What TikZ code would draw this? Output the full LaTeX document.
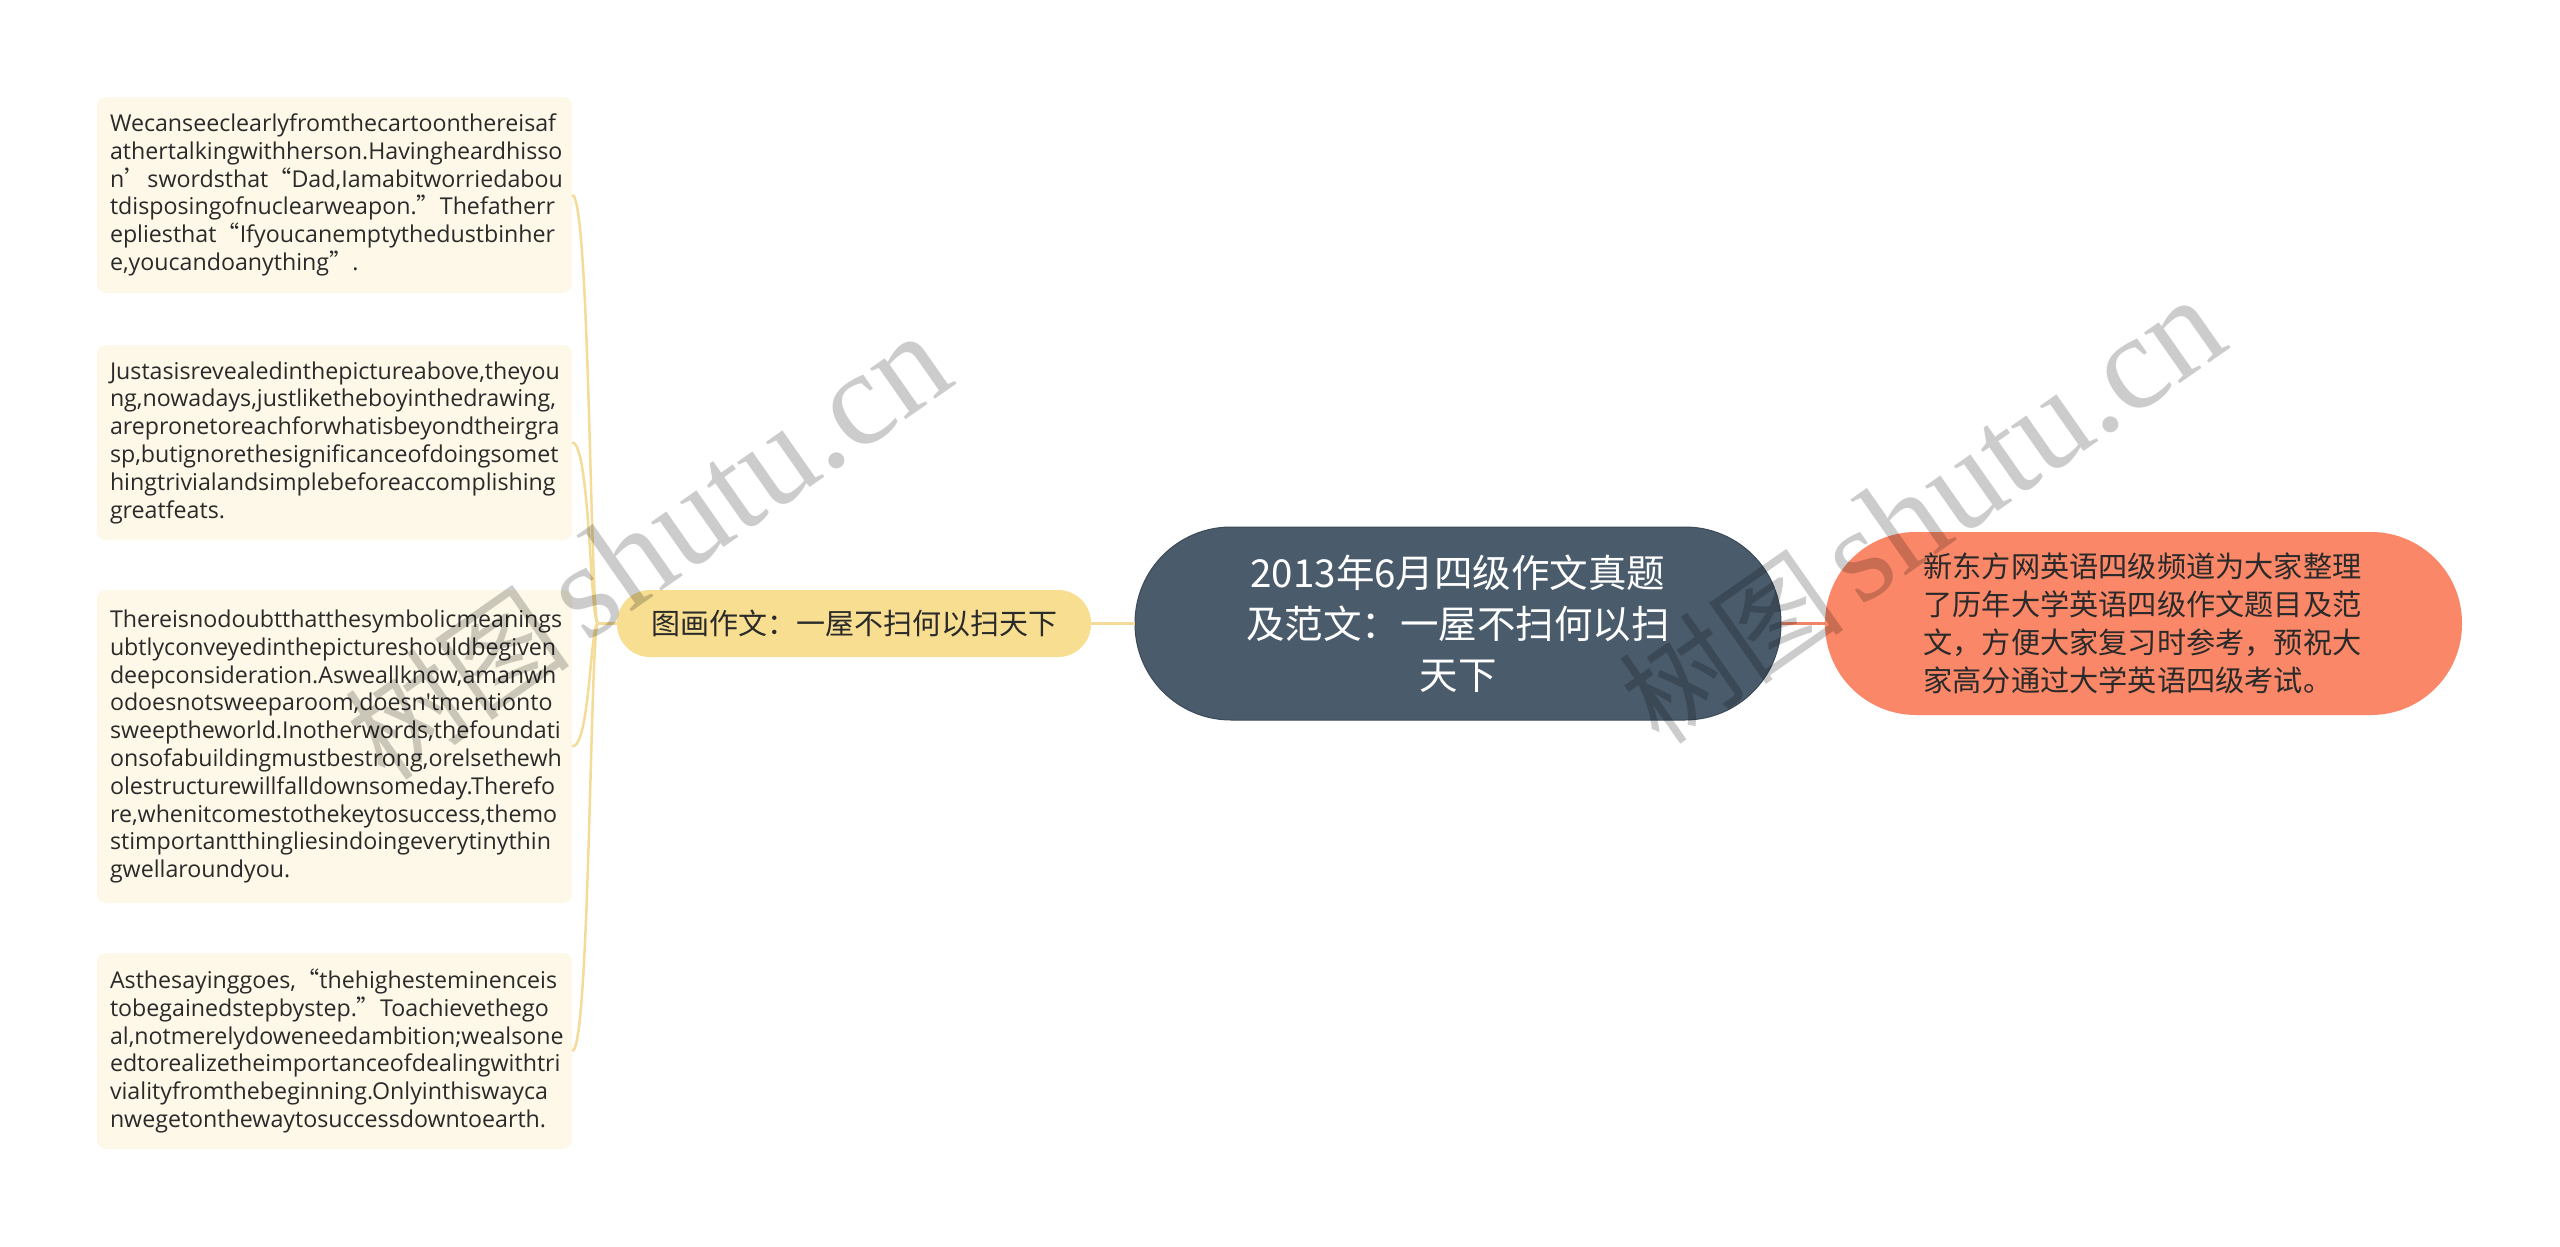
\documentclass[tikz,border=0pt]{standalone}
\usepackage{fontspec}
\setmainfont{Open Sans}
\newfontfamily\cjk{Noto Sans CJK SC}
\newfontfamily\wmserif{Liberation Serif}
\definecolor{boxfill}{HTML}{FDF8E7}
\definecolor{yline}{HTML}{F4DC98}
\definecolor{ynode}{HTML}{F8DE91}
\definecolor{cnode}{HTML}{4A5B6B}
\definecolor{cborder}{HTML}{3C4A58}
\definecolor{onode}{HTML}{FA8767}
\definecolor{oline}{HTML}{EE8468}
\definecolor{txtdark}{HTML}{2A2A2A}
\newcommand\fq[1]{{\cjk#1}}
\hyphenpenalty=10000
\exhyphenpenalty=10000
\begin{document}
\begin{tikzpicture}[x=1pt,y=-1pt,
  leaf/.style={fill=boxfill, rounded corners=9pt, text width=449pt, inner xsep=13pt, inner ysep=0pt,
    align=left, text=txtdark, font=\fontsize{23.2}{27.8}\selectfont},
  subnode/.style={fill=ynode, rounded corners=33pt, minimum width=474pt, minimum height=67pt,
    inner sep=0pt, text=txtdark, font=\cjk\fontsize{29}{38}\selectfont},
  rootnode/.style={fill=cnode, draw=cborder, line width=1pt, rounded corners=96pt, minimum width=646pt,
    minimum height=193pt, inner sep=0pt, text=white, align=center, font=\cjk\fontsize{38.5}{51}\selectfont},
  infonode/.style={fill=onode, rounded corners=91pt, minimum width=637pt, minimum height=183pt,
    inner sep=0pt, text width=440pt, align=left, text=txtdark, font=\cjk\fontsize{29.2}{37.8}\selectfont},
  yconn/.style={draw=yline, line width=3pt},
  ycurve/.style={draw=yline, line width=2.5pt},
  oconn/.style={draw=oline, line width=3pt},
  wmark/.style={rotate=35, text=black, text opacity=0.2, inner sep=0pt}
]
\fill[white] (0,0) rectangle (2560,1247);
\useasboundingbox (0,0) rectangle (2560,1247);

\node[leaf, minimum height=196pt] (b1) at (334.5,195) {Wecanseeclearlyfromthecartoonthereisaf\\athertalkingwithherson.Havingheardhisso\\n\fq{’}swordsthat\fq{“}Dad,Iamabitworriedabou\\tdisposingofnuclearweapon.\fq{”}Thefatherr\\epliesthat\fq{“}Ifyoucanemptythedustbinher\\e,youcandoanything\fq{”}.};

\node[leaf, minimum height=195pt] (b2) at (334.5,442.5) {Justasisrevealedinthepictureabove,theyou\\ng,nowadays,justliketheboyinthedrawing,\\arepronetoreachforwhatisbeyondtheirgra\\sp,butignorethesignificanceofdoingsomet\\hingtrivialandsimplebeforeaccomplishing\\greatfeats.};

\node[leaf, minimum height=313pt] (b3) at (334.5,746.5) {Thereisnodoubtthatthesymbolicmeanings\\ubtlyconveyedinthepictureshouldbegiven\\deepconsideration.Asweallknow,amanwh\\odoesnotsweeparoom,doesn\textquotesingle tmentionto\\sweeptheworld.Inotherwords,thefoundati\\onsofabuildingmustbestrong,orelsethewh\\olestructurewillfalldownsomeday.Therefo\\re,whenitcomestothekeytosuccess,themo\\stimportantthingliesindoingeverytinythin\\gwellaroundyou.};

\node[leaf, minimum height=196pt] (b4) at (334.5,1051) {Asthesayinggoes,\fq{“}thehighesteminenceis\\tobegainedstepbystep.\fq{”}Toachievethego\\al,notmerelydoweneedambition;wealsone\\edtorealizetheimportanceofdealingwithtri\\vialityfromthebeginning.Onlyinthiswayca\\nwegetonthewaytosuccessdowntoearth.};

\node[subnode] (t) at (854,623.5) {图画作文：一屋不扫何以扫天下};
\node[rootnode] (c) at (1458,623.5) {2013年6月四级作文真题\\及范文：一屋不扫何以扫\\天下};
\node[infonode] (o) at (2143.5,623.5) {新东方网英语四级频道为大家整理\\了历年大学英语四级作文题目及范\\文，方便大家复习时参考，预祝大\\家高分通过大学英语四级考试。};

\coordinate (s) at (598,623.5);
\draw[yconn] (t.west) -- (s);
\draw[yconn] (t.east) -- (c.west);
\draw[oconn] (c.east) -- (o.west);
\foreach \b in {b1,b2,b3,b4}{
  \draw[ycurve] (s) .. controls +(-8,0) and +(18,0) .. (\b.east);
}

\node[wmark] (w1) at (648,548) {{\cjk\fontsize{113}{113}\selectfont 树图}\hspace{18pt}{\wmserif\fontsize{135}{135}\selectfont shutu.cn}};
\node[wmark] (w2) at (1922,512) {{\cjk\fontsize{113}{113}\selectfont 树图}\hspace{18pt}{\wmserif\fontsize{135}{135}\selectfont shutu.cn}};
\end{tikzpicture}
\end{document}
